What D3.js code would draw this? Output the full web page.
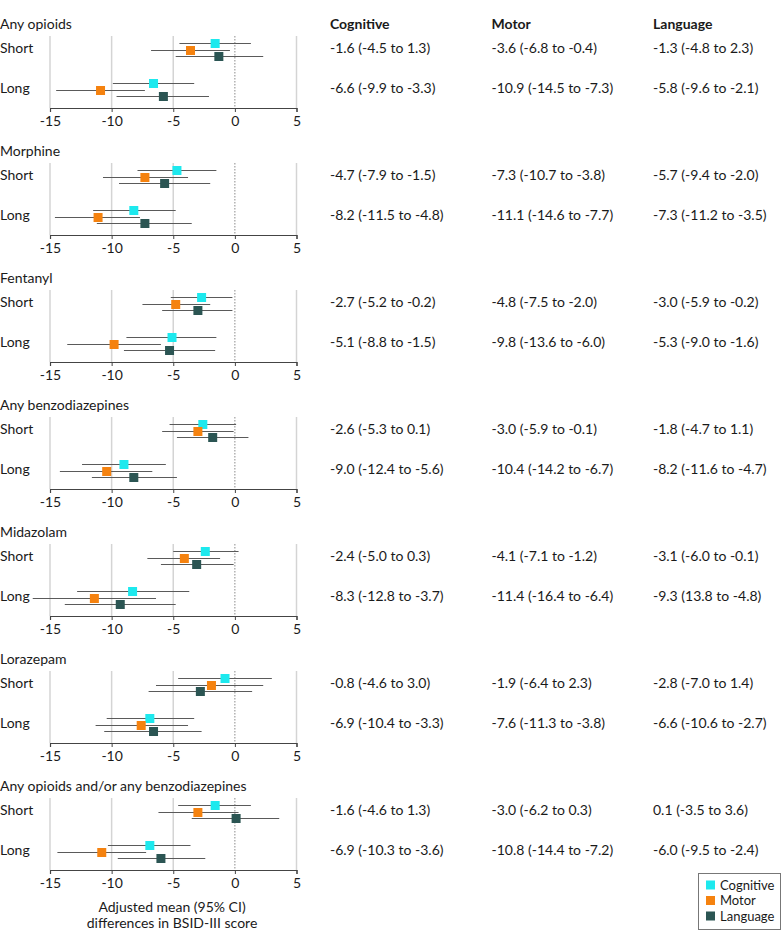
<!DOCTYPE html>
<html>
<head>
<meta charset="utf-8">
<script src="https://cdn.jsdelivr.net/npm/d3@7"></script>
<style>
  html, body { margin: 0; padding: 0; background: #fff; }
  svg { display: block; }
  text { font-family: Lato, "Open Sans", sans-serif; fill: #1a1a1a; }
</style>
</head>
<body>
<svg id="chart" width="783" height="945"></svg>
<script>
// ---------- data ----------
const groups = ["Any opioids", "Morphine", "Fentanyl", "Any benzodiazepines",
  "Midazolam", "Lorazepam", "Any opioids and/or any benzodiazepines"];
const durations = ["Short", "Long"];
const outcomes = ["Cognitive", "Motor", "Language"];
const outcomeColors = ["#1de9ee", "#f5820f", "#2b5553"];
const xTicks = [-15, -10, -5, 0, 5];

// [group][duration][outcome]
const estimates = [
  [[-1.6, -3.6, -1.3], [-6.6, -10.9, -5.8]],
  [[-4.7, -7.3, -5.7], [-8.2, -11.1, -7.3]],
  [[-2.7, -4.8, -3.0], [-5.1, -9.8, -5.3]],
  [[-2.6, -3.0, -1.8], [-9.0, -10.4, -8.2]],
  [[-2.4, -4.1, -3.1], [-8.3, -11.4, -9.3]],
  [[-0.8, -1.9, -2.8], [-6.9, -7.6, -6.6]],
  [[-1.6, -3.0, 0.1], [-6.9, -10.8, -6.0]]
];
const ciLow = [
  [[-4.5, -6.8, -4.8], [-9.9, -14.5, -9.6]],
  [[-7.9, -10.7, -9.4], [-11.5, -14.6, -11.2]],
  [[-5.2, -7.5, -5.9], [-8.8, -13.6, -9.0]],
  [[-5.3, -5.9, -4.7], [-12.4, -14.2, -11.6]],
  [[-5.0, -7.1, -6.0], [-12.8, -16.4, -13.8]],
  [[-4.6, -6.4, -7.0], [-10.4, -11.3, -10.6]],
  [[-4.6, -6.2, -3.5], [-10.3, -14.4, -9.5]]
];
const ciHigh = [
  [[1.3, -0.4, 2.3], [-3.3, -7.3, -2.1]],
  [[-1.5, -3.8, -2.0], [-4.8, -7.7, -3.5]],
  [[-0.2, -2.0, -0.2], [-1.5, -6.0, -1.6]],
  [[0.1, -0.1, 1.1], [-5.6, -6.7, -4.7]],
  [[0.3, -1.2, -0.1], [-3.7, -6.4, -4.8]],
  [[3.0, 2.3, 1.4], [-3.3, -3.8, -2.7]],
  [[1.3, 0.3, 3.6], [-3.6, -7.2, -2.4]]
];
// table text as printed (keeps the original's wording)
const tableText = [
  [["-1.6 (-4.5 to 1.3)", "-3.6 (-6.8 to -0.4)", "-1.3 (-4.8 to 2.3)"],
   ["-6.6 (-9.9 to -3.3)", "-10.9 (-14.5 to -7.3)", "-5.8 (-9.6 to -2.1)"]],
  [["-4.7 (-7.9 to -1.5)", "-7.3 (-10.7 to -3.8)", "-5.7 (-9.4 to -2.0)"],
   ["-8.2 (-11.5 to -4.8)", "-11.1 (-14.6 to -7.7)", "-7.3 (-11.2 to -3.5)"]],
  [["-2.7 (-5.2 to -0.2)", "-4.8 (-7.5 to -2.0)", "-3.0 (-5.9 to -0.2)"],
   ["-5.1 (-8.8 to -1.5)", "-9.8 (-13.6 to -6.0)", "-5.3 (-9.0 to -1.6)"]],
  [["-2.6 (-5.3 to 0.1)", "-3.0 (-5.9 to -0.1)", "-1.8 (-4.7 to 1.1)"],
   ["-9.0 (-12.4 to -5.6)", "-10.4 (-14.2 to -6.7)", "-8.2 (-11.6 to -4.7)"]],
  [["-2.4 (-5.0 to 0.3)", "-4.1 (-7.1 to -1.2)", "-3.1 (-6.0 to -0.1)"],
   ["-8.3 (-12.8 to -3.7)", "-11.4 (-16.4 to -6.4)", "-9.3 (13.8 to -4.8)"]],
  [["-0.8 (-4.6 to 3.0)", "-1.9 (-6.4 to 2.3)", "-2.8 (-7.0 to 1.4)"],
   ["-6.9 (-10.4 to -3.3)", "-7.6 (-11.3 to -3.8)", "-6.6 (-10.6 to -2.7)"]],
  [["-1.6 (-4.6 to 1.3)", "-3.0 (-6.2 to 0.3)", "0.1 (-3.5 to 3.6)"],
   ["-6.9 (-10.3 to -3.6)", "-10.8 (-14.4 to -7.2)", "-6.0 (-9.5 to -2.4)"]]
];
const axisTitle = ["Adjusted mean (95% CI)", "differences in BSID-III score"];

// ---------- layout ----------
const svg = d3.select("#chart");
const fs = 14;
const x = d3.scaleLinear().domain([-15, 5]).range([50, 296.5]);
const panelY = d3.scaleBand().domain(groups).range([24, 24 + 127 * groups.length]).paddingInner(0).align(0);
// offsets within a panel (relative to title line)
const rowY = d3.scaleBand().domain(durations).range([19, 99]).paddingInner(0).align(0);
const outY = d3.scalePoint().domain(outcomes).range([0, 13]);
const axisOffset = 84;
const gridTop = 12;
const tableX = d3.scalePoint().domain(outcomes).range([330, 653]);
const markerSize = 9;

groups.forEach((g, gi) => {
  const P = panelY(g);
  const pg = svg.append("g").attr("transform", `translate(0,${P})`);

  // title
  pg.append("text").attr("x", 0).attr("y", 0).attr("dy", "0.35em")
    .style("font-size", fs + "px").text(g);

  // gridlines
  pg.selectAll("line.grid").data(xTicks.filter(t => t !== 0)).join("line")
    .attr("class", "grid")
    .attr("x1", d => x(d)).attr("x2", d => x(d))
    .attr("y1", gridTop).attr("y2", axisOffset)
    .attr("stroke", "#d4d4d4").attr("stroke-width", 1.5);
  // zero reference
  pg.append("line")
    .attr("x1", x(0)).attr("x2", x(0)).attr("y1", gridTop).attr("y2", axisOffset)
    .attr("stroke", "#8a8a8a").attr("stroke-width", 1).attr("stroke-dasharray", "1.5,1.5");

  // axis
  const ax = pg.append("g").attr("transform", `translate(0,${axisOffset})`)
    .call(d3.axisBottom(x).tickValues(xTicks).tickSize(4).tickPadding(4).tickFormat(d3.format("d")));
  ax.select(".domain").attr("stroke", "#444").attr("stroke-width", 1.2);
  ax.selectAll(".tick line").attr("stroke", "#444");
  ax.selectAll(".tick text").style("font-size", fs + "px")
    .style("font-family", "Lato, 'Open Sans', sans-serif").attr("fill", "#1a1a1a")
    .text(d => d < 0 ? "-" + Math.abs(d) : d);

  durations.forEach((dur, di) => {
    const R = rowY(dur);
    // row label
    pg.append("text").attr("x", 0).attr("y", R + outY("Motor") - 1).attr("dy", "0.35em")
      .style("font-size", fs + "px").text(dur);

    outcomes.forEach((o, oi) => {
      const yy = Math.round(R + outY(o)) + 0.5;
      pg.append("line")
        .attr("x1", x(ciLow[gi][di][oi])).attr("x2", x(ciHigh[gi][di][oi]))
        .attr("y1", yy).attr("y2", yy)
        .attr("stroke", "#5a5a5a").attr("stroke-width", 1);
      pg.append("rect")
        .attr("x", x(estimates[gi][di][oi]) - markerSize / 2)
        .attr("y", yy - markerSize / 2)
        .attr("width", markerSize).attr("height", markerSize)
        .attr("fill", outcomeColors[oi]);
      // table text
      pg.append("text").attr("x", tableX(o)).attr("y", R + outY("Motor") - 1)
        .attr("dy", "0.35em").style("font-size", fs + "px")
        .text(tableText[gi][di][oi]);
    });
  });
});

// column headers
svg.selectAll("text.hdr").data(outcomes).join("text")
  .attr("class", "hdr")
  .attr("x", d => tableX(d)).attr("y", panelY(groups[0])).attr("dy", "0.35em")
  .style("font-size", fs + "px").style("font-weight", "bold").text(d => d);

// axis title
svg.append("g").selectAll("text").data(axisTitle).join("text")
  .attr("x", x(-5) + 50).attr("y", (d, i) => 907 + i * 16).attr("dy", "0.35em")
  .attr("text-anchor", "middle").style("font-size", fs + "px").text(d => d)
  .attr("x", 172);

// legend
const lg = svg.append("g").attr("transform", "translate(698,873)");
lg.append("rect").attr("x", 0.5).attr("y", 0.5).attr("width", 82).attr("height", 56)
  .attr("fill", "#fff").attr("stroke", "#777").attr("stroke-width", 1);
const ly = d3.scalePoint().domain(outcomes).range([12, 43]);
outcomes.forEach((o, i) => {
  lg.append("rect").attr("x", 8).attr("y", ly(o) - 4.5).attr("width", 9).attr("height", 9)
    .attr("fill", outcomeColors[i]);
  lg.append("text").attr("x", 22).attr("y", ly(o)).attr("dy", "0.35em")
    .style("font-size", "13px").text(o);
});
</script>
</body>
</html>
